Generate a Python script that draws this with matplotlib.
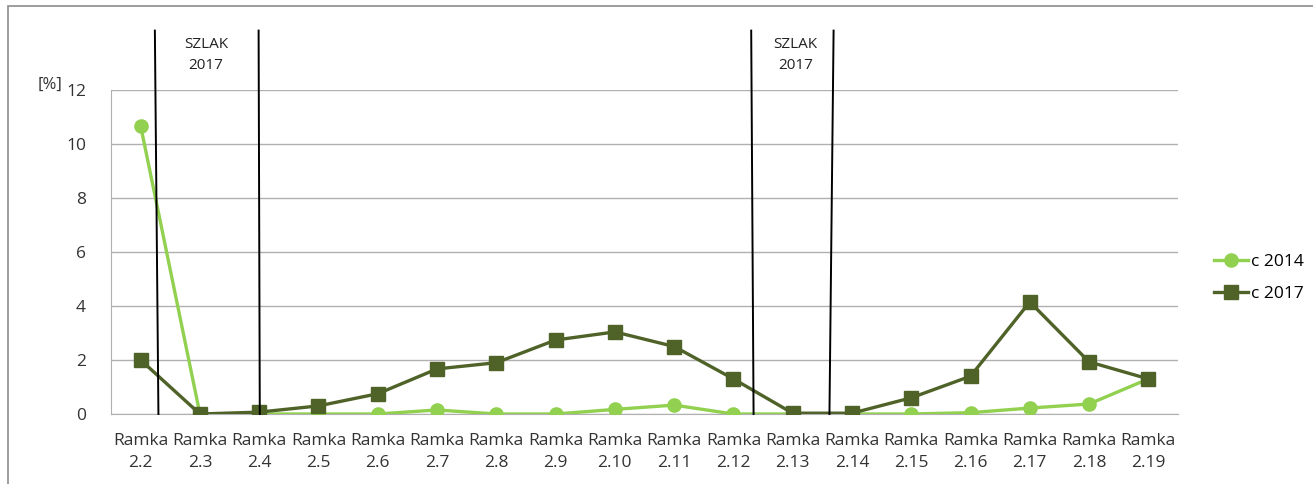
import matplotlib
matplotlib.use("Agg")
import matplotlib.pyplot as plt
from matplotlib.patches import Rectangle

plt.rcParams['font.family'] = ['Open Sans', 'DejaVu Sans']

ramki = ['2.2', '2.3', '2.4', '2.5', '2.6', '2.7', '2.8', '2.9', '2.10',
         '2.11', '2.12', '2.13', '2.14', '2.15', '2.16', '2.17', '2.18', '2.19']
c2014 = [10.67, 0.0, 0.0, 0.0, 0.0, 0.15, 0.0, 0.0, 0.17,
         0.33, 0.0, 0.0, 0.0, 0.0, 0.05, 0.22, 0.37, 1.3]
c2017 = [2.0, 0.0, 0.07, 0.3, 0.75, 1.67, 1.9, 2.74, 3.04,
         2.5, 1.3, 0.03, 0.03, 0.6, 1.4, 4.15, 1.93, 1.3]
# granice szlakow (x dol, x gora)
granice = [(0.30, 0.24), (2.01, 1.99), (10.34, 10.30), (11.62, 11.69)]
szlak_x = [1.10, 11.05]

fig = plt.figure(figsize=(13.13, 4.84), dpi=100)
ax = fig.add_axes([111 / 1313, 1 - 414 / 484, (1178 - 111) / 1313, (414 - 90) / 484])

x = list(range(len(ramki)))
ax.plot(x, c2014, color='#92d050', lw=2.4, marker='o', ms=9.5, label='c 2014', zorder=3)
ax.plot(x, c2017, color='#4f6228', lw=2.4, marker='s', ms=9.5, label='c 2017', zorder=3)

for xb, xt in granice:
    ax.plot([xb, xt], [0, 14.2], color='black', lw=1.4, clip_on=False, zorder=4)
for sx in szlak_x:
    ax.text(sx, 13.28, 'SZLAK\n2017', ha='center', va='center', fontsize=11,
            linespacing=1.55, color='#222222')

ax.set_xlim(-0.5, len(ramki) - 0.5)
ax.set_ylim(0, 12)
ax.set_yticks(range(0, 13, 2))
ax.set_xticks(x)
ax.set_xticklabels(['Ramka\n' + r for r in ramki], linespacing=1.45)
ax.tick_params(axis='both', length=0, labelsize=12.5, colors='#333333')
ax.tick_params(axis='y', pad=18)
ax.tick_params(axis='x', pad=14)
ax.grid(axis='y', color='#b0b0b0', lw=1)
ax.set_axisbelow(True)
for s in ['top', 'right']:
    ax.spines[s].set_visible(False)
ax.spines['left'].set_color('#b0b0b0')
ax.spines['bottom'].set_color('#b0b0b0')

fig.text(50 / 1313, 1 - 85 / 484, '[%]', ha='center', va='center', fontsize=12, color='#333333')

fig.legend(loc='center left', bbox_to_anchor=(1198 / 1313, 1 - 278 / 484), frameon=False,
           fontsize=12.5, handlelength=2.0, handletextpad=0.15, labelspacing=0.9)

fig.patches.append(Rectangle((8 / 1313, -0.01), 1.02, 1 - 6 / 484 + 0.01, transform=fig.transFigure,
                             fill=False, edgecolor='#8c8c8c', lw=1.2))

fig.savefig('out.png', dpi=100)
